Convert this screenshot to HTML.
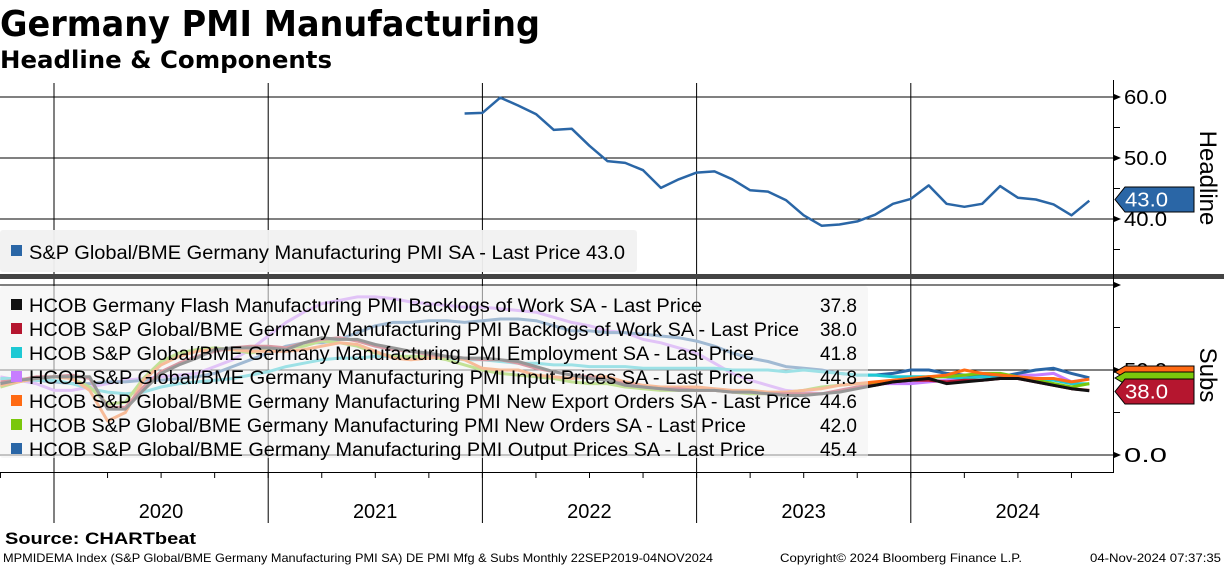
<!DOCTYPE html>
<html><head><meta charset="utf-8">
<style>
html,body{margin:0;padding:0;background:#fff;}
body{width:1224px;height:566px;overflow:hidden;position:relative;font-family:"Liberation Sans",sans-serif;}
svg{position:absolute;left:0;top:0;}
</style></head>
<body>
<svg id="chart" width="1224" height="566" viewBox="0 0 1224 566">
  <text x="0" y="36" font-size="36" font-weight="bold" textLength="540" lengthAdjust="spacingAndGlyphs" font-family="DejaVu Sans, sans-serif">Germany PMI Manufacturing</text>
  <text x="0" y="68" font-size="24" font-weight="bold" textLength="332" lengthAdjust="spacingAndGlyphs" font-family="DejaVu Sans, sans-serif">Headline &amp; Components</text>
  <g id="grid"></g>
  <g id="lowerLines"></g>
  <rect x="0" y="286" width="868" height="172" rx="3" fill="rgba(241,241,241,0.6)"/>
  <g id="lowerLegend"></g>
  <g id="upperLines"></g>
  <rect x="0" y="230" width="637" height="42" rx="3" fill="rgba(241,241,241,0.95)"/>
  <rect x="11" y="245" width="11" height="11" fill="#2a66a6"/>
  <text x="29" y="259" font-size="19" textLength="596" lengthAdjust="spacingAndGlyphs">S&amp;P Global/BME Germany Manufacturing PMI SA - Last Price 43.0</text>
  <rect x="0" y="274" width="1224" height="5" fill="#444"/>
  <g id="axes"></g>
  <text x="5" y="544" font-size="17" font-weight="bold" textLength="191" lengthAdjust="spacingAndGlyphs">Source: CHARTbeat</text>
  <text x="3" y="562" font-size="12" textLength="710" lengthAdjust="spacingAndGlyphs">MPMIDEMA Index (S&amp;P Global/BME Germany Manufacturing PMI SA) DE PMI Mfg &amp; Subs  Monthly 22SEP2019-04NOV2024</text>
  <text x="780" y="562" font-size="12" textLength="242" lengthAdjust="spacingAndGlyphs">Copyright© 2024 Bloomberg Finance L.P.</text>
  <text x="1090" y="562" font-size="12" textLength="131" lengthAdjust="spacingAndGlyphs">04-Nov-2024 07:37:35</text>
</svg>
<script>
const years = ["2020","2021","2022","2023","2024"];
const upperTicks = [40, 50, 60];
const lowerTicks = [0, 50];
const headline = [57.3,57.4,59.9,58.6,57.2,54.6,54.8,52.0,49.5,49.2,48.0,45.1,46.5,47.6,47.8,46.5,44.7,44.5,43.1,40.6,38.9,39.1,39.6,40.7,42.5,43.3,45.5,42.5,42.0,42.5,45.4,43.5,43.2,42.4,40.6,43.0];
const inputPrices = [46,44,42,38,38,40,42,44,45,46,47,48,52,56,62,70,78,84,89,91,93,93,92,90,89,88,87,87,86,85,84,81,78,76,73,72,68,66,63,60,54,48,44,41,38,37,36,38,40,42,42,42,43,44,46,46,45,47,47,48,43,44.8];
const outputPrices = [45,44,44,43,42,42,43,43,44,44,45,46,48,52,56,60,64,66,66,68,72,76,78,78,79,79,78,79,80,80,79,76,73,73,72,72,71,70,69,67,64,60,57,55,52,51,50,48,47,47,48,50,50,48,47,47,46,48,50,51,48,45.4];
const employment = [45,45,44,44,42,39,37,36,37,40,42,43,44,45,47,49,52,54,56,57,57,58,58,58,57,57,56,56,55,54,54,53,53,52,52,52,51,51,51,51,51,50,50,50,49,50,49,48,47,47,46,46,46,46,45,46,45,45,45,44,42,41.8];
const flashBacklogs = [42,44,45,46,46,46,27,27,38,48,53,57,62,63,63,63,62,66,69,68,68,65,63,61,60,58,57,57,56,55,52,49,47,45,44,41,40,39,38,38,38,37,37,36,35,35,36,37,39,41,43,44,45,42,43,44,45,45,43,41,39,37.8];
const backlogs = [43,44,46,46,47,45,28,28,40,49,54,58,61,63,64,64,63,66,68,69,67,64,62,61,59,58,57,56,56,54,51,49,47,46,44,42,40,39,39,38,38,37,37,36,36,36,36,38,40,41,43,44,44,43,44,44,45,45,43,41,39,38.0];
const newOrders = [40,43,45,46,45,40,30,31,45,55,60,62,63,62,60,62,63,64,67,66,64,60,58,58,58,56,53,50,48,47,46,45,43,42,42,40,39,38,38,38,38,37,36,36,37,38,40,41,42,42,43,45,46,46,47,48,48,46,44,42,40,42.0];
const newExports = [41,43,45,46,45,38,20,25,44,53,58,61,62,62,61,61,61,62,64,66,65,61,57,56,57,58,56,51,50,50,47,46,45,46,46,43,41,40,40,40,39,38,38,37,37,38,39,41,42,43,44,45,46,47,50,48,47,46,45,45,43,44.6];

const lowerNames = ["HCOB Germany Flash Manufacturing PMI Backlogs of Work SA - Last Price","HCOB S&P Global/BME Germany Manufacturing PMI Backlogs of Work SA - Last Price","HCOB S&P Global/BME Germany Manufacturing PMI Employment SA - Last Price","HCOB S&P Global/BME Germany Manufacturing PMI Input Prices SA - Last Price","HCOB S&P Global/BME Germany Manufacturing PMI New Export Orders SA - Last Price","HCOB S&P Global/BME Germany Manufacturing PMI New Orders SA - Last Price","HCOB S&P Global/BME Germany Manufacturing PMI Output Prices SA - Last Price"];
const lastValues = ["37.8","38.0","41.8","44.8","44.6","42.0","45.4"];
const legendWidths = [673,770,725,725,782,717,736];

const NS="http://www.w3.org/2000/svg";
function mk(tag, attrs, parent){const e=document.createElementNS(NS,tag);for(const k in attrs)e.setAttribute(k,attrs[k]);parent.appendChild(e);return e;}
const MW=17.85, X0=54;
const xMonth = i => X0 + i*MW;
const yUp = v => 219 - (v-40)*6.1;
const yLow = v => 455 - v*1.7;

const grid=document.getElementById('grid');
const axes=document.getElementById('axes');
years.forEach((y,i)=>{
  const x=xMonth(i*12);
  const l=mk('line',{x1:x,y1:83,x2:x,y2:523,stroke:'#000','stroke-width':1},grid);
  
  
  const t=mk('text',{x:x+107,y:518,'font-size':20,'text-anchor':'middle'},axes);
  t.textContent=y;
  
  
});
upperTicks.forEach(v=>{
  const l=mk('line',{x1:0,y1:yUp(v),x2:1113,y2:yUp(v),stroke:'#000','stroke-width':1},grid);
  
  
  const t=mk('text',{x:1124,y:yUp(v)+7,'font-size':20,textLength:43,lengthAdjust:'spacingAndGlyphs'},axes);
  t.textContent=v.toFixed(1);
  
  
  mk('path',{d:`M1114 ${yUp(v)-3} L1121 ${yUp(v)} L1114 ${yUp(v)+3}Z`,fill:'#000'},axes);
});
[35,45,55].forEach(v=>mk('line',{x1:1114,y1:yUp(v),x2:1120,y2:yUp(v),stroke:'#000'},axes));
lowerTicks.forEach(v=>{
  const l=mk('line',{x1:0,y1:yLow(v),x2:1113,y2:yLow(v),stroke:'#000','stroke-width':1},grid);
  
  
  const t=mk('text',{x:1124,y:yLow(v)+7,'font-size':20,textLength:43,lengthAdjust:'spacingAndGlyphs'},axes);
  t.textContent=v.toFixed(1);
  
  
  mk('path',{d:`M1114 ${yLow(v)-3} L1121 ${yLow(v)} L1114 ${yLow(v)+3}Z`,fill:'#000'},axes);
});
mk('line',{x1:0,y1:285,x2:1113,y2:285,stroke:'#000'},grid);
mk('path',{d:`M1114 282 L1121 285 L1114 288Z`,fill:'#000'},axes);
[25,75].forEach(v=>mk('line',{x1:1114,y1:yLow(v),x2:1120,y2:yLow(v),stroke:'#000'},axes));
mk('line',{x1:1113.5,y1:80,x2:1113.5,y2:473,stroke:'#000'},axes);
mk('line',{x1:0,y1:472.5,x2:1114,y2:472.5,stroke:'#000'},axes);
for(let q=-1;q<20;q++){const x=xMonth(q*3);if(x>=0&&x<1113)mk('line',{x1:x,y1:472,x2:x,y2:478,stroke:'#000'},axes);}

const lowerSeries=[[flashBacklogs,'#111111'],[backlogs,'#b5162f'],[employment,'#1ec9d4'],[inputPrices,'#c77dff'],[newExports,'#ff6a13'],[newOrders,'#7ac70c'],[outputPrices,'#2a66a6']];
const lowerG=document.getElementById('lowerLines');
const drawOrder=[3,6,2,5,4,1,0];
drawOrder.forEach(si=>{
  const [arr,col]=lowerSeries[si];
  const pts=arr.map((v,k)=>`${xMonth(k-3).toFixed(1)},${yLow(v).toFixed(1)}`).join(' ');
  const p=mk('polyline',{points:pts,fill:'none',stroke:col,'stroke-width':3,'stroke-linejoin':'round'},lowerG);
  
  
});
const lg=document.getElementById('lowerLegend');
lowerNames.forEach((n,i)=>{
  const y=305+i*24;
  const r=mk('rect',{x:11,y:y-6,width:11,height:11,fill:lowerSeries[i][1]},lg);
  
  
  const t=mk('text',{x:29,y:y+7,'font-size':19,textLength:legendWidths[i],lengthAdjust:'spacingAndGlyphs'},lg);
  t.textContent=n;
  
  
  const v=mk('text',{x:857,y:y+7,'font-size':19,'text-anchor':'end'},lg);
  v.textContent=lastValues[i];
  
  
});
const ug=document.getElementById('upperLines');
const hp=mk('polyline',{points:headline.map((v,k)=>`${xMonth(k+23).toFixed(1)},${yUp(v).toFixed(1)}`).join(' '),fill:'none',stroke:'#2a66a6','stroke-width':2.5,'stroke-linejoin':'round'},ug);



function tag(y1,y2,col,txt,name){
  const ym=(y1+y2)/2;
  const p=mk('path',{d:`M1115 ${ym} L1125 ${y1} L1194 ${y1} L1194 ${y2} L1125 ${y2} Z`,fill:col,stroke:'#000','stroke-width':1},axes);
  
  
  if(txt){const t=mk('text',{x:1125,y:ym+7,'font-size':20,fill:'#fff',textLength:43,lengthAdjust:'spacingAndGlyphs'},axes);t.textContent=txt;
  
  }
}
tag(187,212,'#2a66a6','43.0','headline-last-tag');
tag(366,378,'#ff6a13','','export-last-tag');
tag(372,384,'#7ac70c','','orders-last-tag');
tag(379,404,'#b5162f','38.0','backlogs-last-tag');

function vlabel(txt,cy,name){
  const t=mk('text',{x:0,y:0,'font-size':24,'text-anchor':'middle',transform:`translate(1200 ${cy}) rotate(90)`},axes);
  t.textContent=txt;
  
  
}
vlabel('Headline',178,'upper-axis-title');
vlabel('Subs',375,'lower-axis-title');
</script>
</body></html>
